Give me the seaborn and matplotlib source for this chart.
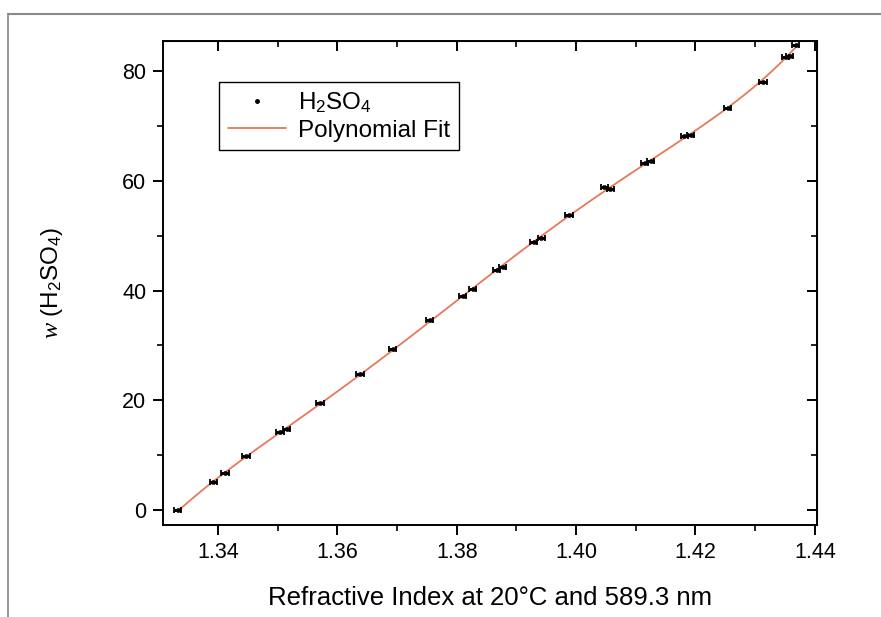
import numpy as np
import matplotlib
matplotlib.use("Agg")
import matplotlib.pyplot as plt
from matplotlib.lines import Line2D
from matplotlib.ticker import MultipleLocator, AutoMinorLocator, FormatStrFormatter
import seaborn as sns

# refractive index readings and mass fraction of H2SO4
n_values = [1.3333, 1.3392, 1.3412, 1.3447, 1.3504, 1.3515, 1.3571, 1.3638,
            1.3693, 1.3755, 1.3810, 1.3827, 1.3867, 1.3877, 1.3929, 1.3942,
            1.3988, 1.4047, 1.4057, 1.4115, 1.4125, 1.4181, 1.4192, 1.4254,
            1.4313, 1.4351, 1.4358, 1.4368]
w_values = [0.0, 5.1, 6.7, 9.8, 14.2, 14.8, 19.5, 24.8,
            29.3, 34.6, 39.0, 40.2, 43.8, 44.3, 48.9, 49.5,
            53.7, 58.8, 58.5, 63.3, 63.6, 68.2, 68.3, 73.2,
            78.0, 82.6, 82.8, 84.8]
n_err = 0.0006
fit_order = 5

sns.set_style("ticks")
plt.rcParams['font.family'] = ['Liberation Sans', 'DejaVu Sans']
plt.rcParams['mathtext.fontset'] = 'custom'
plt.rcParams['mathtext.rm'] = 'Liberation Sans'
plt.rcParams['mathtext.it'] = 'Liberation Serif:italic'
plt.rcParams['text.color'] = 'black'
plt.rcParams['axes.labelcolor'] = 'black'
plt.rcParams['xtick.color'] = 'black'
plt.rcParams['ytick.color'] = 'black'

fig = plt.figure(figsize=(8.81, 6.17), dpi=100)
ax = fig.add_axes([0.185, 0.149, 0.742, 0.785])

n = np.array(n_values)
w = np.array(w_values)

# polynomial fit through the measurements
fit = np.polynomial.Polynomial.fit(n, w, fit_order)
xs = np.linspace(n.min(), n.max(), 300)
sns.lineplot(x=xs, y=fit(xs), ax=ax, color='#E8785A', lw=1.3, zorder=2)

ax.errorbar(n, w, xerr=n_err, fmt='none', ecolor='black', elinewidth=2.2,
            capsize=2, capthick=1.3, zorder=3)
sns.scatterplot(x=n, y=w, ax=ax, color='black', s=10, edgecolor='black', zorder=4)

ax.set_xlim(1.3308, 1.4403)
ax.set_ylim(-2.7, 85.5)
ax.xaxis.set_major_locator(MultipleLocator(0.02))
ax.xaxis.set_minor_locator(AutoMinorLocator(2))
ax.yaxis.set_major_locator(MultipleLocator(20))
ax.yaxis.set_minor_locator(AutoMinorLocator(2))
ax.xaxis.set_major_formatter(FormatStrFormatter('%.2f'))

for sp in ax.spines.values():
    sp.set_linewidth(1.4)
    sp.set_color('black')
ax.tick_params(which='major', direction='out', length=7, width=1.4, labelsize=15.5, pad=5)
ax.tick_params(which='minor', direction='out', length=4, width=1.2)

# mirrored inward ticks on top and right
top = ax.secondary_xaxis('top')
top.xaxis.set_major_locator(MultipleLocator(0.02))
top.xaxis.set_minor_locator(AutoMinorLocator(2))
top.tick_params(which='major', direction='in', length=7, width=1.4, labeltop=False)
top.tick_params(which='minor', direction='in', length=4, width=1.2)
right = ax.secondary_yaxis('right')
right.yaxis.set_major_locator(MultipleLocator(20))
right.yaxis.set_minor_locator(AutoMinorLocator(2))
right.tick_params(which='major', direction='in', length=7, width=1.4, labelright=False)
right.tick_params(which='minor', direction='in', length=4, width=1.2)

ax.set_xlabel('Refractive Index at 20°C and 589.3 nm', fontsize=18.5, labelpad=17)
ax.set_ylabel(r'$\mathit{w}$ (H$_2$SO$_4$)', fontsize=17.5, labelpad=41)

handles = [Line2D([], [], ls='none', marker='.', ms=5, color='black'),
           Line2D([], [], color='#E8785A', lw=1.3)]
leg = ax.legend(handles, ['H$_2$SO$_4$', 'Polynomial Fit'], loc='upper left',
                bbox_to_anchor=(0.086, 0.915), borderaxespad=0, fancybox=False,
                framealpha=1, edgecolor='black', fontsize=17.5, handlelength=2.4,
                borderpad=0.35, labelspacing=0.2, handletextpad=0.5)
leg.get_frame().set_linewidth(1.0)

# outer frame of the figure panel
fig.add_artist(Line2D([0.009, 1.0], [0.977, 0.977], color='#8a8a8a', lw=1.5))
fig.add_artist(Line2D([0.009, 0.009], [0.0, 0.977], color='#8a8a8a', lw=1.2))

fig.savefig('out.png', dpi=100)
